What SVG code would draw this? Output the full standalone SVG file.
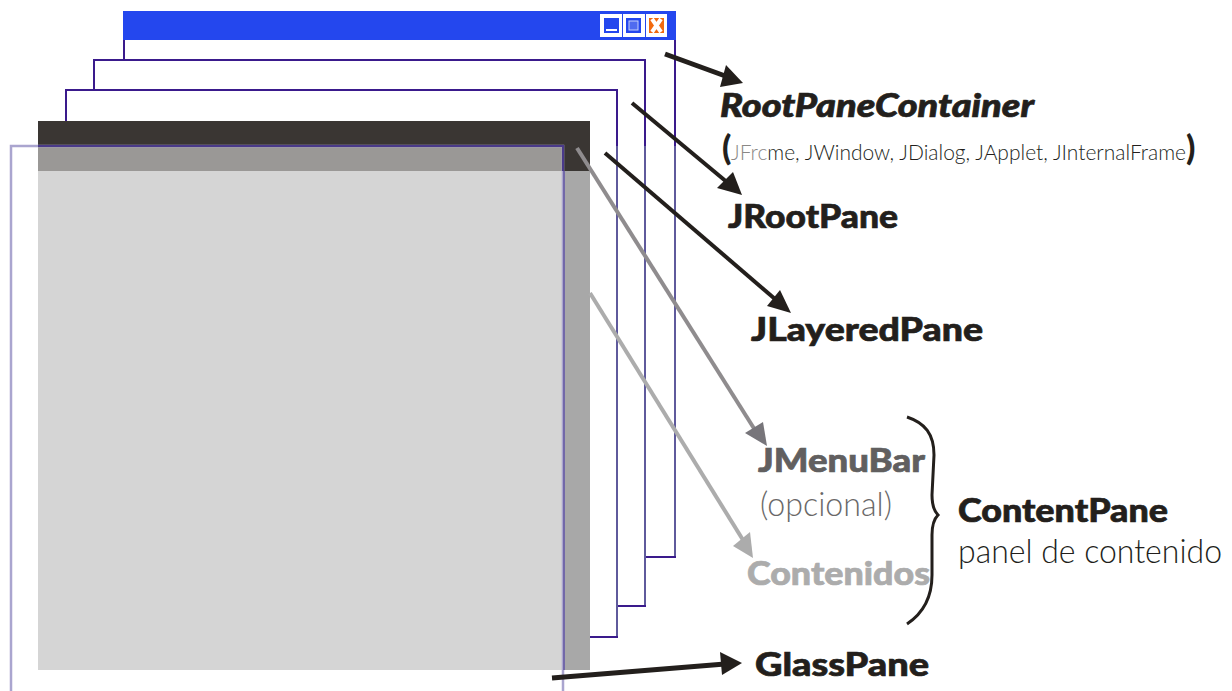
<svg xmlns="http://www.w3.org/2000/svg" width="1232" height="691" viewBox="0 0 1232 691">
<style>
.win{fill:#fff;stroke:#3a1a8c;stroke-width:2}
.h{font-family:Lato,"Open Sans",sans-serif;font-weight:900;font-size:33px;fill:#231f1c;stroke:#231f1c;stroke-width:.7}
.l{font-family:Lato,"Open Sans",sans-serif;font-weight:300;font-size:33px;fill:#231f1c}
.conn{fill:none;stroke-width:4}
</style>
<rect width="1232" height="691" fill="#fff"/>
<g id="root-pane-container">
<rect class="win" x="124" y="20" width="551" height="537"/>
<rect x="123" y="11" width="553" height="29" fill="#2447ee"/>
<rect x="600" y="14" width="22" height="23" fill="#fff"/>
<rect x="604" y="18" width="15" height="15" fill="#2447ee"/>
<rect x="606" y="29" width="11" height="2" fill="#fff"/>
<rect x="623" y="14" width="22" height="23" fill="#fff"/>
<rect x="626" y="18" width="15" height="15" fill="#2447ee"/>
<rect x="629" y="21" width="9" height="9" fill="#4f6bef" stroke="#c4cffa" stroke-width="1"/>
<rect x="646" y="14" width="21" height="23" fill="#fff"/>
<rect x="649" y="18" width="15" height="15" fill="#f26a0f"/>
<path d="M652 19 L661 32 M661 19 L652 32" stroke="#fff" stroke-width="4" fill="none"/>
</g>
<g id="jrootpane"><rect class="win" x="94" y="60" width="551" height="546"/></g>
<g id="jlayeredpane"><rect class="win" x="66" y="90" width="551" height="547"/></g>
<path d="M617 146 V636 M645 146 V605 M675 146 V556" stroke="#5f5a9c" stroke-width="2" fill="none"/>
<g id="jmenubar-layer">
<rect x="38" y="121" width="552" height="50" fill="#3a3633"/>
<rect x="38" y="145" width="525" height="26" fill="#9a9896"/>
</g>
<g id="contenidos-layer">
<rect x="38" y="171" width="525" height="499" fill="#d5d5d5"/>
<rect x="563" y="171" width="27" height="499" fill="#a8a8a8"/>
</g>
<g id="glass-pane">
<path d="M11 691 V146 H563 V691" fill="none" stroke="#aaa5cf" stroke-width="2.5"/>
<path d="M38 146 H563 V171" fill="none" stroke="#4a3a8a" stroke-width="2"/>
<path d="M564 171 V670" fill="none" stroke="#7268a8" stroke-width="2"/>
</g>
<g id="connectors">
<path class="conn" stroke="#231f1c" d="M665 54 L728 77" style="stroke-width:5"/>
<path fill="#231f1c" d="M743 83 L720 87 L726 65Z"/>
<path class="conn" stroke="#231f1c" d="M632 103 L728 183"/>
<path fill="#231f1c" d="M742 195 L717 188 L733 172Z"/>
<path class="conn" stroke="#231f1c" d="M605 153 L775 299"/>
<path fill="#231f1c" d="M791 313 L767 306 L780 290Z"/>
<path class="conn" stroke="#8f8c8e" d="M577 148 L755 430"/>
<path fill="#77757a" d="M767 446 L745 433 L763 422Z"/>
<path class="conn" stroke="#acacac" d="M590 293 L743 540"/>
<path fill="#acacac" d="M753 558 L733 546 L750 532Z"/>
<path class="conn" stroke="#231f1c" d="M552 678 L725 664" style="stroke-width:5"/>
<path fill="#231f1c" d="M742 663 L720 652 L722 675Z"/>
<path d="M907 417 C925 423 934 434 934 455 L932 495 C932 506 934 511 938 515 C934 519 932 526 932 535 L932 575 C932 598 922 614 907 624" fill="none" stroke="#231f1c" stroke-width="3"/>
</g>
<g id="label-rootpanecontainer">
<text class="h" x="720" y="117" font-style="italic" textLength="314" lengthAdjust="spacingAndGlyphs">RootPaneContainer</text>
<text x="722" y="160" font-family="Lato,sans-serif" font-weight="900" font-size="34" fill="#231f1c">(</text>
<text x="731" y="160" font-family="Lato,sans-serif" font-weight="300" font-size="21" fill="#231f1c" textLength="455" lengthAdjust="spacingAndGlyphs"><tspan fill="#8a8886">JFrc</tspan>me, JWindow, JDialog, JApplet, JInternalFrame</text>
<text x="1186" y="160" font-family="Lato,sans-serif" font-weight="900" font-size="34" fill="#231f1c">)</text>
</g>
<g id="label-jrootpane"><text class="h" x="728" y="228" textLength="170" lengthAdjust="spacingAndGlyphs">JRootPane</text></g>
<g id="label-jlayeredpane"><text class="h" x="751" y="341" textLength="232" lengthAdjust="spacingAndGlyphs">JLayeredPane</text></g>
<g id="label-jmenubar">
<text class="h" x="758" y="472" style="fill:#615f5f;stroke:#615f5f" textLength="167" lengthAdjust="spacingAndGlyphs">JMenuBar</text>
<text class="l" x="760" y="516" style="fill:#6a6868" textLength="132" lengthAdjust="spacingAndGlyphs">(opcional)</text>
</g>
<g id="label-contenidos"><text class="h" x="747" y="585" style="fill:#acacac;stroke:#acacac" textLength="183" lengthAdjust="spacingAndGlyphs">Contenidos</text></g>
<g id="label-contentpane">
<text class="h" x="958" y="522" textLength="210" lengthAdjust="spacingAndGlyphs">ContentPane</text>
<text class="l" x="958" y="563" textLength="264" lengthAdjust="spacingAndGlyphs">panel de contenido</text>
</g>
<g id="label-glasspane"><text class="h" x="755" y="676" textLength="174" lengthAdjust="spacingAndGlyphs">GlassPane</text></g>
</svg>
